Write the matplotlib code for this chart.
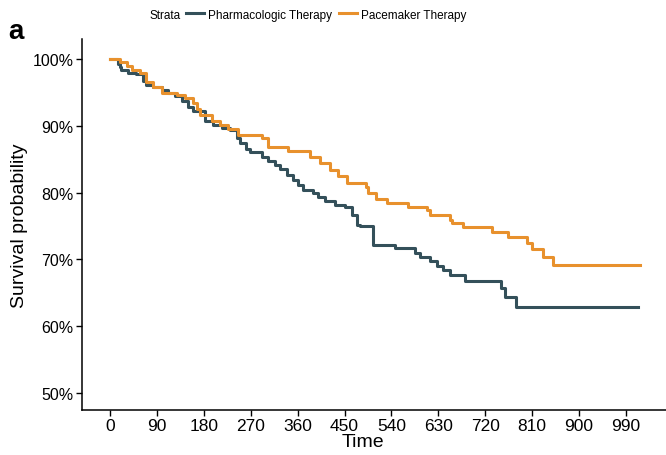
import matplotlib.pyplot as plt

plt.rcParams['font.family'] = ['Liberation Sans', 'DejaVu Sans']

# Pharmacologic Therapy : temps des événements et survie (%) après chaque événement
t_pharma = [0, 16, 19, 22, 35, 51, 64, 70, 83, 99, 112, 125, 138, 150, 160, 182, 198, 215,
            230, 244, 250, 262, 269, 291, 303, 317, 326, 340, 351, 361, 370, 389, 399, 412,
            432, 451, 464, 474, 480, 505, 547, 585, 595, 614, 627, 639, 652, 681, 751, 758,
            779, 1013]
s_pharma = [100, 99.3, 98.8, 98.4, 97.9, 97.7, 96.7, 96.2, 95.8, 95.4, 95.0, 94.5, 93.8, 92.8,
            92.3, 90.7, 90.1, 89.7, 89.4, 88.2, 87.5, 86.6, 86.1, 85.4, 84.7, 84.2, 83.6, 82.7,
            81.9, 81.2, 80.4, 80.0, 79.4, 78.7, 78.2, 77.8, 76.6, 75.2, 75.0, 72.2, 71.7, 71.0,
            70.4, 69.7, 69.0, 68.4, 67.7, 66.8, 65.7, 64.3, 62.9, 62.9]

# Pacemaker Therapy
t_pace = [0, 19, 32, 42, 58, 70, 83, 99, 128, 144, 160, 167, 173, 195, 211, 227, 246, 291,
          303, 342, 384, 403, 422, 438, 454, 492, 495, 511, 531, 572, 609, 614, 652, 656, 678,
          733, 764, 800, 809, 831, 850, 1017]
s_pace = [100, 99.5, 98.9, 98.4, 97.9, 96.6, 95.8, 95.0, 94.6, 94.2, 93.4, 92.5, 91.6, 90.7,
          90.1, 89.6, 88.7, 88.2, 86.9, 86.3, 85.3, 84.5, 83.4, 82.5, 81.5, 80.9, 80.0, 79.0,
          78.5, 77.9, 77.4, 76.7, 75.9, 75.4, 74.8, 74.1, 73.4, 72.5, 71.6, 70.4, 69.2, 69.2]

x_ticks = list(range(0, 991, 90))
y_ticks = [50, 60, 70, 80, 90, 100]

col_pharma = '#34505A'
col_pace = '#E8912D'

fig = plt.figure(figsize=(6.66, 4.56), dpi=100)
ax = fig.add_axes([0.123, 0.099, 0.877, 0.813])

ax.step(t_pharma, s_pharma, where='post', color=col_pharma, lw=2.2, label='Pharmacologic Therapy')
ax.step(t_pace, s_pace, where='post', color=col_pace, lw=2.2, label='Pacemaker Therapy')

ax.set_xlim(-53.7, 1066.7)
ax.set_ylim(47.45, 103.0)
ax.set_xticks(x_ticks)
ax.set_yticks(y_ticks)
ax.set_yticklabels(['{}%'.format(v) for v in y_ticks])
ax.tick_params(labelsize=11.5, length=4, width=1, colors='black', pad=2)
ax.tick_params(axis='x', labelsize=12.5)

for s in ['top', 'right']:
    ax.spines[s].set_visible(False)
for s in ['left', 'bottom']:
    ax.spines[s].set_linewidth(1.1)

ax.set_xlabel('Time', fontsize=14, labelpad=0, x=0.481)
ax.set_ylabel('Survival probability', fontsize=14, labelpad=3)

# légende en haut
fig.text(150 / 666, 0.966, 'Strata', fontsize=8.5, va='center', ha='left')
fig.legend(loc='center left', bbox_to_anchor=(186 / 666, 0.966), ncol=2, frameon=False,
           fontsize=8.5, handlelength=1.5, handletextpad=0.35, columnspacing=0.6,
           borderaxespad=0, borderpad=0)

fig.text(0.012, 0.93, 'a', fontsize=20, fontweight='bold', va='center')

fig.savefig('out.png', dpi=100)
